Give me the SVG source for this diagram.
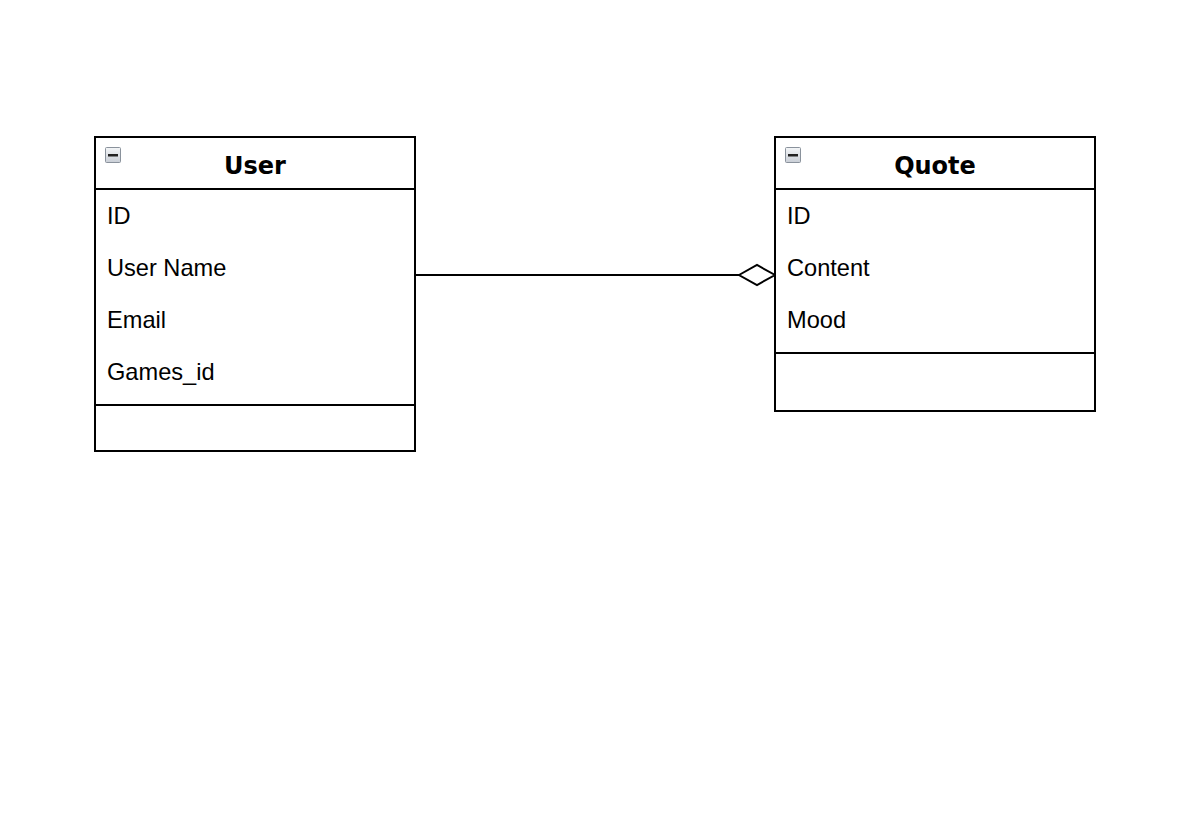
<svg xmlns="http://www.w3.org/2000/svg" width="1196" height="826" viewBox="0 0 1196 826">
  <style>
    .box { fill: #ffffff; stroke: #000000; stroke-width: 2; }
    .sep { stroke: #000000; stroke-width: 2; }
    .title { font-family: "DejaVu Sans", Verdana, sans-serif; font-weight: bold; font-size: 24px; fill: #000; text-anchor: middle; }
    .attr { font-family: "Liberation Sans", Arial, Helvetica, sans-serif; font-size: 23.6px; fill: #000; }
    .edge { stroke: #000000; stroke-width: 2; fill: none; }
  </style>
  <defs>
    <linearGradient id="iconFill" x1="0" y1="0" x2="0" y2="1">
      <stop offset="0" stop-color="#f4f6f8"/>
      <stop offset="1" stop-color="#c9ced6"/>
    </linearGradient>
    <!-- collapse (minus) icon -->
    <g id="collapse">
      <rect x="0.5" y="0.5" width="15" height="15" rx="1" fill="url(#iconFill)" stroke="#8a929c" stroke-width="1"/>
      <rect x="3" y="7" width="10" height="2.5" fill="#222"/>
    </g>
  </defs>
  <rect width="1196" height="826" fill="#ffffff"/>

  <g id="connectors">
    <line class="edge" x1="415" y1="275" x2="739" y2="275"/>
    <polygon points="739,275 757,265 775,275 757,285" fill="#ffffff" stroke="#000" stroke-width="2"/>
  </g>

  <g id="user">
    <rect class="box" x="95" y="137" width="320" height="314"/>
    <line class="sep" x1="95" y1="189" x2="415" y2="189"/>
    <line class="sep" x1="95" y1="405" x2="415" y2="405"/>
    <use href="#collapse" x="105" y="147"/>
    <text class="title" x="255" y="174">User</text>
    <text class="attr" x="107" y="224">ID</text>
    <text class="attr" x="107" y="276">User Name</text>
    <text class="attr" x="107" y="328">Email</text>
    <text class="attr" x="107" y="380">Games_id</text>
  </g>

  <g id="quote">
    <rect class="box" x="775" y="137" width="320" height="274"/>
    <line class="sep" x1="775" y1="189" x2="1095" y2="189"/>
    <line class="sep" x1="775" y1="353" x2="1095" y2="353"/>
    <use href="#collapse" x="785" y="147"/>
    <text class="title" x="935" y="174">Quote</text>
    <text class="attr" x="787" y="224">ID</text>
    <text class="attr" x="787" y="276">Content</text>
    <text class="attr" x="787" y="328">Mood</text>
  </g>
</svg>
